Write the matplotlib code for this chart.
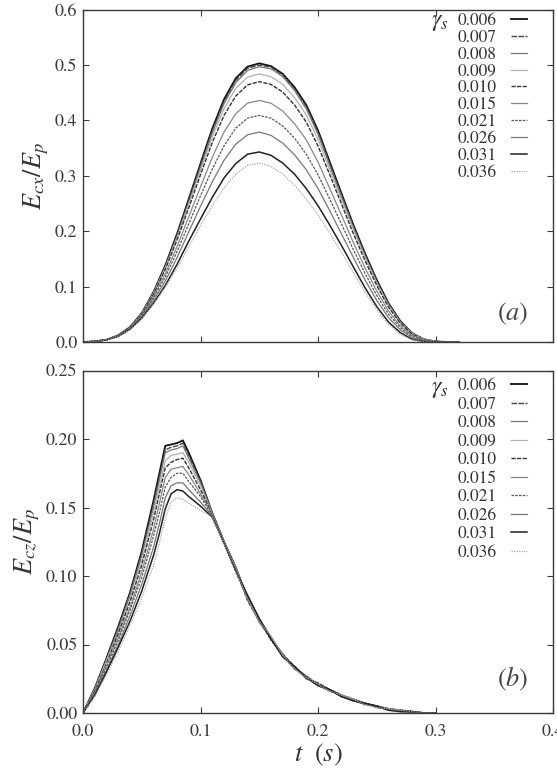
import matplotlib
matplotlib.use("Agg")
import matplotlib.pyplot as plt

plt.rcParams['font.family'] = ['STIXGeneral', 'Liberation Serif', 'DejaVu Serif']
plt.rcParams['mathtext.fontset'] = 'stix'

gammas = ['0.006', '0.007', '0.008', '0.009', '0.010', '0.015', '0.021', '0.026', '0.031', '0.036']

# ---- panel (a) ----
t_a = [0.00, 0.01, 0.02, 0.03, 0.04, 0.05, 0.06, 0.07, 0.08, 0.09, 0.10, 0.11, 0.12, 0.13, 0.14, 0.15, 0.16,
       0.17, 0.18, 0.19, 0.20, 0.21, 0.22, 0.23, 0.24, 0.25, 0.26, 0.27, 0.28, 0.29, 0.30, 0.31, 0.32]
ecx_006 = [0, .001, .004, .012, .027, .052, .090, .138, .195, .258, .322, .385, .438, .476, .497, .503, .498, .484, .460, .428, .382, .325, .268, .212, .160, .112, .070, .038, .016, .005, .001, 0, 0]
ecx_007 = [0, .001, .004, .012, .026, .051, .089, .136, .193, .255, .319, .381, .434, .472, .494, .500, .496, .482, .457, .425, .379, .322, .265, .210, .158, .110, .069, .037, .016, .005, .001, 0, 0]
ecx_008 = [0, .001, .004, .011, .026, .050, .087, .134, .190, .251, .315, .377, .430, .468, .490, .497, .493, .479, .454, .421, .375, .318, .262, .207, .155, .108, .067, .036, .015, .004, .001, 0, 0]
ecx_009 = [0, .001, .004, .012, .026, .051, .088, .134, .188, .249, .310, .370, .421, .458, .478, .484, .479, .465, .441, .410, .366, .311, .257, .203, .153, .106, .066, .035, .015, .005, .001, 0, 0]
ecx_010 = [0, .001, .004, .012, .026, .050, .086, .131, .184, .242, .302, .360, .409, .444, .464, .470, .465, .451, .428, .397, .354, .302, .249, .196, .147, .102, .063, .034, .014, .004, .001, 0, 0]
ecx_015 = [0, .001, .004, .011, .025, .048, .082, .123, .172, .226, .280, .333, .379, .412, .431, .436, .431, .417, .394, .365, .325, .277, .229, .180, .134, .092, .056, .029, .012, .004, .001, 0, 0]
ecx_021 = [0, .001, .004, .011, .024, .047, .079, .117, .163, .213, .264, .312, .354, .386, .404, .409, .404, .390, .368, .339, .302, .258, .213, .167, .124, .084, .050, .026, .010, .003, .001, 0, 0]
ecx_026 = [0, .001, .004, .011, .024, .045, .075, .110, .152, .199, .245, .289, .328, .357, .374, .379, .373, .359, .338, .311, .277, .237, .195, .153, .112, .075, .044, .022, .008, .002, 0, 0, 0]
ecx_031 = [0, .001, .004, .010, .023, .043, .070, .102, .140, .182, .222, .261, .296, .322, .339, .343, .337, .323, .303, .277, .246, .211, .174, .136, .098, .064, .036, .017, .005, .001, 0, 0, 0]
ecx_036 = [0, .001, .004, .010, .022, .042, .068, .098, .133, .172, .210, .246, .278, .303, .319, .323, .317, .303, .283, .258, .229, .197, .162, .126, .090, .058, .032, .014, .004, .001, 0, 0, 0]
ecx = [ecx_006, ecx_007, ecx_008, ecx_009, ecx_010, ecx_015, ecx_021, ecx_026, ecx_031, ecx_036]

# ---- panel (b) ----
t_b = [0.00, 0.01, 0.02, 0.03, 0.04, 0.05, 0.06, 0.065, 0.07, 0.075, 0.08, 0.085, 0.09, 0.10, 0.11, 0.12,
       0.13, 0.14, 0.15, 0.16, 0.17, 0.18, 0.19, 0.20, 0.21, 0.22, 0.23, 0.24, 0.25, 0.26, 0.27, 0.28, 0.29, 0.30]
ecz_006 = [0, .018, .040, .063, .088, .118, .155, .175, .195, .196, .197, .199, .190, .170, .146, .125,
           .106, .084, .068, .055, .042, .033, .026, .021, .017, .013, .010, .007, .005, .003, .002, .001, 0, 0]
ecz_007 = [0, .018, .039, .062, .087, .116, .153, .172, .192, .194, .195, .197, .188, .169, .146, .125,
           .105, .085, .067, .054, .043, .033, .027, .021, .016, .013, .009, .007, .005, .003, .002, .001, 0, 0]
ecz_008 = [0, .017, .039, .061, .086, .115, .150, .170, .190, .192, .193, .195, .186, .168, .146, .125,
           .107, .083, .069, .055, .041, .034, .026, .020, .017, .012, .010, .007, .004, .003, .001, .001, 0, 0]
ecz_009 = [0, .017, .038, .059, .083, .111, .146, .165, .184, .188, .189, .190, .183, .166, .145, .125,
           .104, .086, .068, .056, .042, .032, .027, .021, .016, .013, .010, .006, .005, .003, .002, .001, 0, 0]
ecz_010 = [0, .016, .036, .058, .081, .108, .141, .160, .179, .183, .185, .186, .179, .163, .145, .125,
           .106, .082, .067, .054, .043, .034, .025, .022, .017, .012, .009, .007, .005, .002, .002, .001, 0, 0]
ecz_015 = [0, .015, .035, .055, .077, .103, .134, .153, .172, .178, .179, .180, .174, .160, .145, .125,
           .105, .085, .069, .055, .041, .033, .026, .020, .016, .013, .010, .007, .004, .003, .001, .001, 0, 0]
ecz_021 = [0, .015, .033, .053, .075, .099, .129, .146, .165, .172, .175, .175, .169, .158, .144, .124,
           .103, .083, .068, .053, .042, .032, .027, .021, .017, .012, .009, .006, .005, .003, .002, .001, 0, 0]
ecz_026 = [0, .014, .031, .050, .071, .094, .121, .138, .157, .166, .168, .168, .163, .154, .144, .124,
           .106, .084, .066, .055, .043, .033, .025, .021, .016, .013, .010, .007, .004, .003, .002, 0, 0, 0]
ecz_031 = [0, .013, .030, .048, .067, .089, .115, .131, .149, .160, .163, .162, .158, .151, .143, .124,
           .104, .086, .069, .054, .041, .034, .026, .020, .017, .012, .009, .007, .005, .002, .001, .001, 0, 0]
ecz_036 = [0, .012, .028, .045, .064, .084, .108, .124, .142, .154, .157, .156, .153, .148, .143, .124,
           .105, .083, .067, .056, .042, .032, .026, .021, .016, .013, .010, .006, .004, .003, .002, .001, 0, 0]
ecz = [ecz_006, ecz_007, ecz_008, ecz_009, ecz_010, ecz_015, ecz_021, ecz_026, ecz_031, ecz_036]

xticks = [0.0, 0.1, 0.2, 0.3, 0.4]
yticks_a = [0.0, 0.1, 0.2, 0.3, 0.4, 0.5, 0.6]
yticks_b = [0.00, 0.05, 0.10, 0.15, 0.20, 0.25]

styles = [
    ('#111111', '-', 1.3),
    ('#444444', (0, (4, 1)), 1.0),
    ('#777777', '-', 0.9),
    ('#b0b0b0', '-', 0.9),
    ('#333333', (0, (3, 1)), 1.0),
    ('#888888', '-', 0.9),
    ('#555555', (0, (2, 1)), 0.9),
    ('#777777', '-', 0.9),
    ('#222222', '-', 1.1),
    ('#a8a8a8', (0, (1, 1)), 0.9),
]

W, H = 557, 776
fig = plt.figure(figsize=(W / 100, H / 100), dpi=100)
L, R = 83, 553
ax_a = fig.add_axes([L / W, 1 - 342 / H, (R - L) / W, (342 - 9.6) / H])
ax_b = fig.add_axes([L / W, 1 - 713 / H, (R - L) / W, (713 - 370.5) / H])

spine_c = '#3a3a3a'
for ax, yv, t, ylim, yt, ylab, tag, gy, tagy, lsp, ly in [
        (ax_a, ecx, t_a, (0, 0.6), yticks_a, r'$E_{cx}/E_p$', r'$(a)$', 0.962, 0.085, 0.04, 0.99),
        (ax_b, ecz, t_b, (0, 0.25), yticks_b, r'$E_{cz}/E_p$', r'$(b)$', 0.945, 0.10, 0.135, 0.978)]:
    handles = []
    for vals, g, (c, ls, lw) in zip(yv, gammas, styles):
        h, = ax.plot(t, vals, color=c, linestyle=ls, linewidth=lw, label=g)
        handles.append(h)
    ax.set_xlim(0, 0.4)
    ax.set_ylim(*ylim)
    ax.set_xticks(xticks)
    ax.set_yticks(yt)
    ax.tick_params(direction='in', top=True, right=True, length=4, width=0.8,
                   labelsize=13, colors=spine_c)
    ax.tick_params(axis='y', pad=4)
    ax.tick_params(axis='x', pad=8)
    for s in ax.spines.values():
        s.set_color(spine_c)
        s.set_linewidth(1.0)
    ax.set_ylabel(ylab, fontsize=19, color='#333333', labelpad=3)
    ax.text(0.915, tagy, tag, transform=ax.transAxes, fontsize=19, color='#444444',
            ha='center', va='center')
    leg = ax.legend(handles=handles, loc='upper left', bbox_to_anchor=(0.797, ly),
                    frameon=False, markerfirst=False, fontsize=12.5, handlelength=0.95,
                    handletextpad=0.8, labelspacing=lsp, borderpad=0, borderaxespad=0)
    for txt in leg.get_texts():
        txt.set_color('#333333')
    ax.text(0.778, gy, r'$\gamma_s$', transform=ax.transAxes, fontsize=17,
            color='#333333', ha='right', va='center')

ax_a.set_yticklabels(['0.0', '0.1', '0.2', '0.3', '0.4', '0.5', '0.6'])
ax_a.tick_params(labelbottom=False)
ax_b.set_yticklabels(['0.00', '0.05', '0.10', '0.15', '0.20', '0.25'])
ax_b.set_xticklabels(['0.0', '0.1', '0.2', '0.3', '0.4'])
ax_b.set_xlabel(r'$t\ \ (s)$', fontsize=19, color='#333333', labelpad=1)

fig.savefig('out.png', dpi=100)
